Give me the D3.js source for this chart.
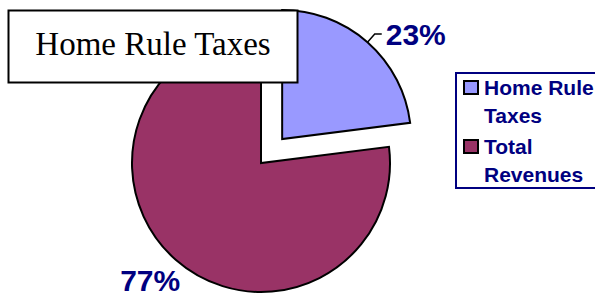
<!DOCTYPE html>
<html>
<head>
<meta charset="utf-8">
<script src="https://cdn.jsdelivr.net/npm/d3@7"></script>
<style>
  body { margin: 0; background: #fff; }
  svg { display: block; }
  .pct { font-family: "Liberation Sans", Arial, sans-serif; font-weight: bold; font-size: 30px; fill: #000080; }
  .legend text { font-family: "Liberation Sans", Arial, sans-serif; font-weight: bold; font-size: 21px; fill: #000080; }
  .title { font-family: "Liberation Serif", "Times New Roman", serif; font-size: 33px; fill: #000; }
</style>
</head>
<body>
<div id="chart"></div>
<script>
const categories = ["Home Rule Taxes", "Total Revenues"];
const values = [23, 77];
const legendLines = [["Home Rule", "Taxes"], ["Total", "Revenues"]];
const colors = ["#9999ff", "#993366"];
const title = "Home Rule Taxes";

const width = 595, height = 297;
const cx = 261, cy = 163, radius = 129, explode = 32;

const svg = d3.select("#chart").append("svg")
  .attr("width", width)
  .attr("height", height);

const pie = d3.pie().sort(null).value(d => d.value);
const data = pie(categories.map((c, i) => ({ name: c, value: values[i], color: colors[i] })));

const arc = d3.arc().innerRadius(0).outerRadius(radius);
const pointAt = r => d3.arc().innerRadius(r).outerRadius(r);

// offset of each slice (only the first one is pulled out)
const shift = (d, i) => {
  if (i !== 0) return [0, 0];
  const a = (d.startAngle + d.endAngle) / 2;
  return [Math.sin(a) * explode, -Math.cos(a) * explode];
};

const g = svg.append("g").attr("transform", `translate(${cx},${cy})`);

const slices = g.selectAll("g.slice")
  .data(data)
  .join("g")
  .attr("class", "slice")
  .attr("transform", (d, i) => `translate(${shift(d, i)})`);

slices.append("path")
  .attr("d", arc)
  .attr("fill", d => d.data.color)
  .attr("stroke", "#000")
  .attr("stroke-width", 2)
  .attr("stroke-linejoin", "miter");

// label for the small slice with a leader line
const s0 = slices.filter((d, i) => i === 0);
s0.each(function (d) {
  const sel = d3.select(this);
  const p1 = pointAt(radius).centroid(d);
  const p2 = pointAt(radius + 11).centroid(d);
  const p3 = [p2[0] + 7, p2[1]];
  sel.append("polyline")
    .attr("points", [p1, p2, p3].map(p => p.join(",")).join(" "))
    .attr("fill", "none")
    .attr("stroke", "#000")
    .attr("stroke-width", 1.5);
  sel.append("text")
    .attr("class", "pct")
    .attr("x", p3[0] + 4)
    .attr("y", p3[1])
    .attr("dy", "0.36em")
    .text(Math.round(d.data.value) + "%");
});

// label for the big slice, no leader
slices.filter((d, i) => i === 1).append("text")
  .attr("class", "pct")
  .attr("transform", d => `translate(${pointAt(radius + 31).centroid(d)})`)
  .attr("dx", -5)
  .attr("dy", "0.25em")
  .attr("text-anchor", "middle")
  .text(d => Math.round(d.data.value) + "%");

// title box
const tb = svg.append("g");
tb.append("rect")
  .attr("x", 8.5).attr("y", 10.5)
  .attr("width", 289).attr("height", 72)
  .attr("fill", "#fff")
  .attr("stroke", "#000")
  .attr("stroke-width", 2);
tb.append("text")
  .attr("class", "title")
  .attr("x", 153).attr("y", 55)
  .attr("text-anchor", "middle")
  .text(title);

// legend
const legend = svg.append("g").attr("class", "legend");
legend.append("rect")
  .attr("x", 456).attr("y", 73)
  .attr("width", 150).attr("height", 115)
  .attr("fill", "#fff")
  .attr("stroke", "#000080")
  .attr("stroke-width", 2);

const itemY = d3.scalePoint().domain(categories).range([95, 154]);
const item = legend.selectAll("g.item")
  .data(categories)
  .join("g")
  .attr("class", "item")
  .attr("transform", d => `translate(0,${itemY(d)})`);

item.append("rect")
  .attr("x", 464).attr("y", -14)
  .attr("width", 14).attr("height", 13)
  .attr("fill", (d, i) => colors[i])
  .attr("stroke", "#000")
  .attr("stroke-width", 2);

item.append("text")
  .attr("x", 484)
  .selectAll("tspan")
  .data((d, i) => legendLines[i])
  .join("tspan")
  .attr("x", 484)
  .attr("y", (d, j) => j * 27.5)
  .text(d => d);
</script>
</body>
</html>
